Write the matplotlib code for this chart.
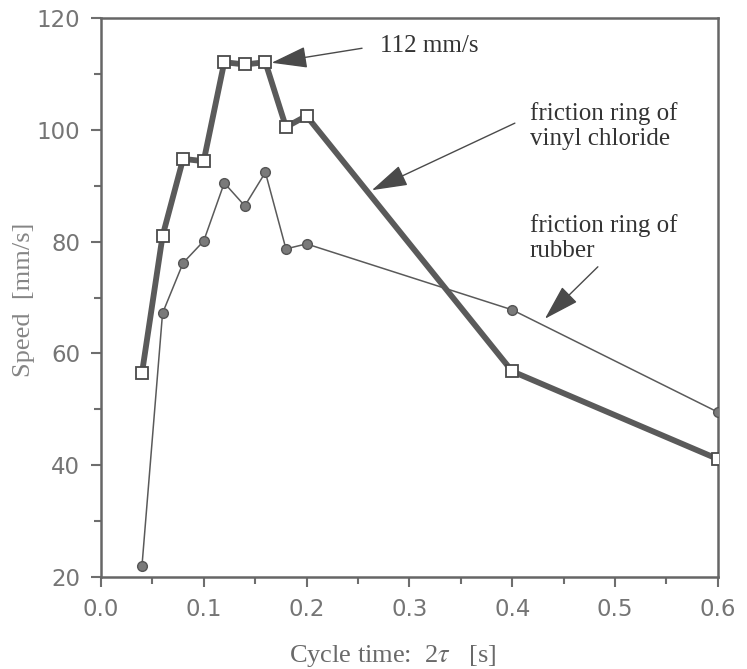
import matplotlib.pyplot as plt
from matplotlib.ticker import MultipleLocator

plt.rcParams['mathtext.fontset'] = 'stix'

# cycle time 2*tau [s]
cycle = [0.04, 0.06, 0.08, 0.10, 0.12, 0.14, 0.16, 0.18, 0.20, 0.40, 0.60]
vinyl = [56.5, 81.0, 94.8, 94.4, 112.1, 111.7, 112.1, 100.5, 102.5, 56.8, 41.1]
rubber = [22.0, 67.2, 76.2, 80.1, 90.5, 86.4, 92.4, 78.7, 79.6, 67.8, 49.5]

gray = '#5a5a5a'
tick_gray = '#6e6e6e'

fig = plt.figure(figsize=(7.47, 6.69), dpi=100)
ax = fig.add_axes([0.135, 0.1375, 0.826, 0.8355])

ax.plot(cycle, rubber, color=gray, lw=1.1, marker='o', ms=7,
        mfc='#7a7a7a', mec='#555555', mew=1.0, zorder=3)
ax.plot(cycle, vinyl, color=gray, lw=4.2, marker='s', ms=9,
        mfc='white', mec='#4a4a4a', mew=1.3, zorder=4)

ax.set_xlim(0.0, 0.6)
ax.set_ylim(20, 120)
ax.xaxis.set_major_locator(MultipleLocator(0.1))
ax.xaxis.set_minor_locator(MultipleLocator(0.05))
ax.yaxis.set_major_locator(MultipleLocator(20))
ax.yaxis.set_minor_locator(MultipleLocator(10))
ax.xaxis.set_major_formatter(plt.FuncFormatter(lambda v, p: f'{v:.1f}'))

ax.tick_params(which='both', direction='out', color=tick_gray, width=1.5,
               labelcolor='#757575', labelsize=16.5, pad=8)
ax.tick_params(which='major', length=7)
ax.tick_params(which='minor', length=5)
for sp in ax.spines.values():
    sp.set_color('#666666')
    sp.set_linewidth(1.8)

serif = ['Liberation Serif', 'DejaVu Serif']
ax.set_xlabel('Cycle time:  2$\\tau$   [s]', family=serif, fontsize=19,
              color='#6a6a6a')
ax.set_ylabel('Speed  [mm/s]', family=serif, fontsize=19, color='#858585')
ax.xaxis.set_label_coords(0.472, -0.118)
ax.yaxis.set_label_coords(-0.107, 0.496)

arrow = dict(arrowstyle='-|>,head_length=1.5,head_width=0.45', color='#4a4a4a',
             lw=1.0, mutation_scale=15, shrinkA=0, shrinkB=0)
ax.annotate('', xy=(0.166, 112.0), xytext=(0.254, 114.6), arrowprops=arrow)
ax.annotate('', xy=(0.2635, 89.2), xytext=(0.4026, 101.2), arrowprops=arrow)
ax.annotate('', xy=(0.4318, 66.2), xytext=(0.4833, 75.5), arrowprops=arrow)

ax.text(0.2713, 115.0, '112 mm/s', family=serif, fontsize=18,
        color='#333333', va='center', ha='left')
ax.text(0.4172, 100.7, 'friction ring of\nvinyl chloride', family=serif,
        fontsize=18, color='#333333', va='center', ha='left', linespacing=1.2)
ax.text(0.4172, 80.6, 'friction ring of\nrubber', family=serif,
        fontsize=18, color='#333333', va='center', ha='left', linespacing=1.2)

fig.savefig('out.png', dpi=100)
